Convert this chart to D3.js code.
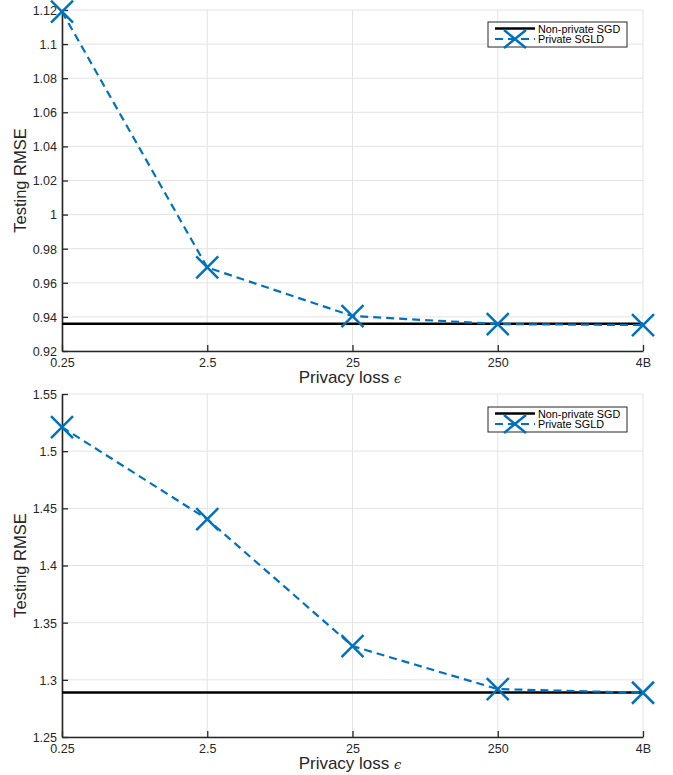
<!DOCTYPE html>
<html><head><meta charset="utf-8">
<script src="https://cdn.jsdelivr.net/npm/d3@7"></script>
<style>body{margin:0;background:#fff}svg{display:block}text{font-family:"Liberation Sans",Arial,Helvetica,sans-serif}</style>
</head><body><svg id="c" width="673" height="775"></svg>
<script>
const categories = ["0.25","2.5","25","250","4B"];
const sgldTop = [1.119, 0.969, 0.9405, 0.9358, 0.9352];
const sgdTop = 0.936;
const yTicksTop = [0.92,0.94,0.96,0.98,1.00,1.02,1.04,1.06,1.08,1.10,1.12];
const sgldBottom = [1.521, 1.4405, 1.3295, 1.2919, 1.2887];
const sgdBottom = 1.289;
const yTicksBottom = [1.25,1.30,1.35,1.40,1.45,1.50,1.55];
const seriesNames = ["Non-private SGD","Private SGLD"];
const xTitle = "Privacy loss ";
const yTitle = "Testing RMSE";

const svg = d3.select("#c");
const blue = "#0072BD", axisCol = "#262626", gridCol = "#e3e3e3";
const x = d3.scalePoint().domain(categories).range([62, 643]);

function panel(top, bottom, ticks, sgld, sgd, legendY){
  const y = d3.scaleLinear().domain([ticks[0], ticks[ticks.length-1]]).range([bottom, top]);
  const g = svg.append("g");
  g.selectAll(".hg").data(ticks).join("line")
    .attr("x1", x.range()[0]).attr("x2", x.range()[1])
    .attr("y1", d=>y(d)).attr("y2", d=>y(d))
    .attr("stroke", gridCol).attr("stroke-width",1);
  g.selectAll(".vg").data(categories).join("line")
    .attr("x1", d=>x(d)).attr("x2", d=>x(d))
    .attr("y1", top).attr("y2", bottom)
    .attr("stroke", gridCol).attr("stroke-width",1);
  const ya = g.append("g").attr("transform",`translate(${x.range()[0]},0)`)
    .call(d3.axisLeft(y).tickValues(ticks).tickSizeInner(-6).tickSizeOuter(0).tickPadding(5)
      .tickFormat(d=>String(+d.toFixed(2))));
  const xa = g.append("g").attr("transform",`translate(0,${bottom})`)
    .call(d3.axisBottom(x).tickSizeInner(-6).tickSizeOuter(0).tickPadding(5));
  [ya, xa].forEach(a=>{
    a.select(".domain").attr("stroke", axisCol).attr("stroke-width",1.6);
    a.selectAll(".tick line").attr("stroke", axisCol).attr("stroke-width",1.3);
    a.selectAll(".tick text").attr("fill", axisCol).attr("font-size", 12.5)
      .attr("font-family",'"Liberation Sans",Arial,sans-serif');
  });
  xa.selectAll(".tick text").attr("dy", null).attr("y", 16);
  ya.selectAll(".tick text").attr("x", -5).attr("dy","0.35em");
  g.append("line").attr("x1", x.range()[0]).attr("x2", x.range()[1])
    .attr("y1", y(sgd)).attr("y2", y(sgd)).attr("stroke","#000").attr("stroke-width",2.5);
  const line = d3.line().x((d,i)=>x(categories[i])).y(d=>y(d));
  g.append("path").datum(sgld).attr("d", line).attr("fill","none")
    .attr("stroke", blue).attr("stroke-width",2.2).attr("stroke-dasharray","8,5");
  const s = 11;
  g.selectAll(".mk").data(sgld).join("path")
    .attr("d",(d,i)=>{const cx=x(categories[i]), cy=y(d);
      return `M${cx-s},${cy-s}L${cx+s},${cy+s}M${cx-s},${cy+s}L${cx+s},${cy-s}`;})
    .attr("stroke", blue).attr("stroke-width",2.5).attr("fill","none");
  g.append("text").attr("x", 350).attr("y", bottom+32).attr("text-anchor","middle")
    .attr("font-size",17).attr("fill",axisCol)
    .text(xTitle).append("tspan").attr("font-size",13).attr("font-family","DejaVu Serif").attr("font-style","italic").text("\u03F5");
  g.append("text").attr("transform",`translate(26,${(top+bottom)/2}) rotate(-90)`)
    .attr("text-anchor","middle").attr("font-size",16.5).attr("fill",axisCol).text(yTitle);
  const lg = g.append("g").attr("transform",`translate(488,${legendY})`);
  lg.append("rect").attr("width",139).attr("height",25).attr("fill","#fff")
    .attr("stroke",axisCol).attr("stroke-width",1);
  lg.append("line").attr("x1",7).attr("x2",47).attr("y1",6.5).attr("y2",6.5).attr("stroke","#000").attr("stroke-width",2.5);
  lg.append("line").attr("x1",7).attr("x2",47).attr("y1",17).attr("y2",17).attr("stroke",blue).attr("stroke-width",2.2).attr("stroke-dasharray","8,5");
  lg.append("path").attr("d",`M${27-s},${17-9}L${27+s},${17+9}M${27-s},${17+9}L${27+s},${17-9}`)
    .attr("stroke",blue).attr("stroke-width",2.5).attr("fill","none");
  lg.selectAll(".lt").data(seriesNames).join("text")
    .attr("x",50).attr("y",(d,i)=>10.5+i*10).attr("font-size",10.8).attr("fill","#000").text(d=>d);
}
panel(10, 351, yTicksTop, sgldTop, sgdTop, 22);
panel(394, 737, yTicksBottom, sgldBottom, sgdBottom, 407);
</script></body></html>
